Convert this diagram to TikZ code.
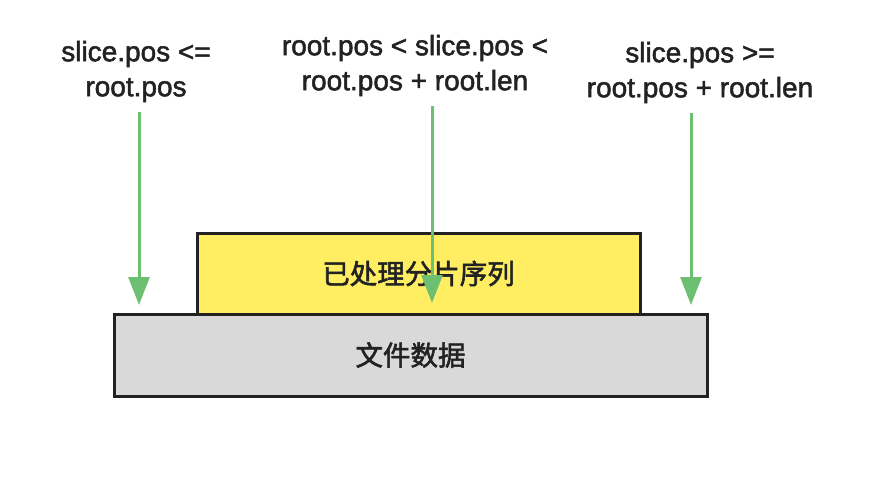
\documentclass[tikz,border=0pt]{standalone}
\usepackage{fontspec}
\setmainfont[FakeBold=1.8]{Liberation Sans}
\newfontfamily\cjk[FakeBold=2]{Noto Sans CJK SC}
\usepackage{xcolor}
\usepackage{tikz}
\usetikzlibrary{positioning,calc,arrows.meta}

\definecolor{sliceGreen}{RGB}{109,192,114}
\definecolor{doneYellow}{RGB}{255,238,98}
\definecolor{fileGray}{RGB}{217,217,217}
\definecolor{edgeDark}{RGB}{34,34,34}

\begin{document}
\begin{tikzpicture}[
    x=1pt, y=-1pt,
    box/.style={rectangle, draw=edgeDark, line width=3pt, inner sep=0pt, text=edgeDark, font=\cjk\fontsize{27.5}{30}\selectfont},
    cond/.style={align=center, inner sep=0pt, text=edgeDark, font=\fontsize{28}{35}\selectfont},
    arrow/.style={-{Triangle[length=28pt,width=21pt]}, line width=3pt, draw=sliceGreen, fill=sliceGreen, shorten <=10pt}
]
    \useasboundingbox (0,0) rectangle (896,481);

    % the two layers
    \node[box, fill=fileGray, minimum width=593pt, minimum height=82pt] (file) at (410.5,355) {文件数据};
    \node[box, fill=doneYellow, minimum width=443pt, minimum height=81pt] (done) at (418.5,273.5) {已处理分片序列};

    % conditions
    \node[cond] (before) at (136,71.5) {slice.pos <=\\root.pos};
    \node[cond] (inside) at (415,65.5) {root.pos < slice.pos <\\root.pos + root.len};
    \node[cond] (after) at (700,72.5) {slice.pos >=\\root.pos + root.len};

    \coordinate (tipBefore) at (139,305);
    \coordinate (tipInside) at (432,303);
    \coordinate (tipAfter) at (691,305);

    \draw[arrow] (before.south -| tipBefore) -- (tipBefore);
    \draw[arrow] (inside.south -| tipInside) -- (tipInside);
    \draw[arrow] (after.south -| tipAfter) -- (tipAfter);
\end{tikzpicture}
\end{document}
